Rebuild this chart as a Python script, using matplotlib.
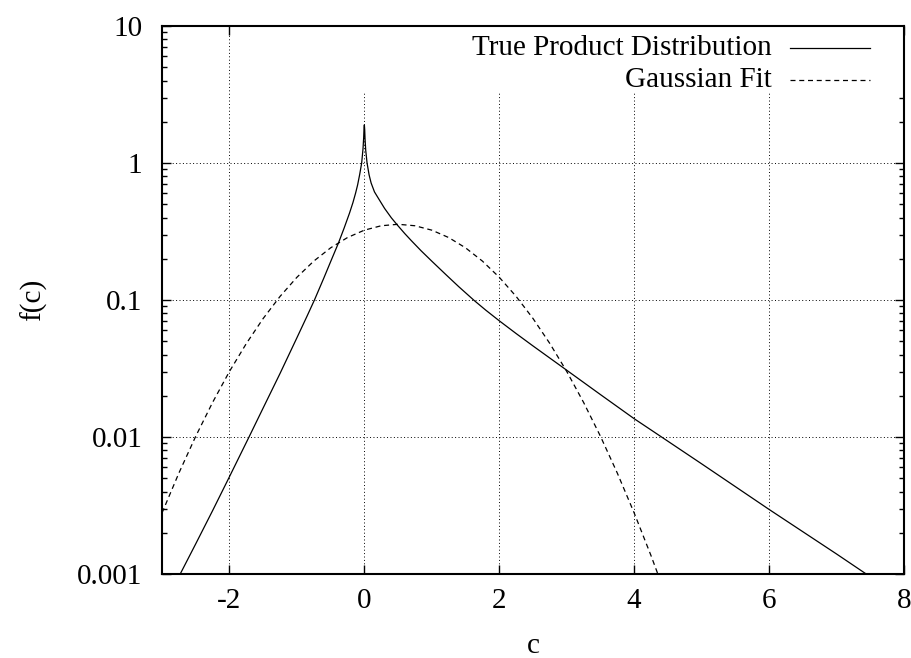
import numpy as np
import matplotlib
matplotlib.use("Agg")
import matplotlib.pyplot as plt
from matplotlib.ticker import LogLocator, FixedLocator, NullLocator, NullFormatter
from matplotlib.patches import Rectangle

plt.rcParams['font.family'] = ['Liberation Serif', 'DejaVu Serif']
plt.rcParams['axes.unicode_minus'] = False

# true product distribution
true_c = [-2.8, -2.73, -2.5, -2.25, -2.0, -1.75, -1.71, -1.5, -1.25, -1.0,
          -0.85, -0.74, -0.6, -0.5, -0.385, -0.3, -0.22, -0.17, -0.13, -0.1,
          -0.07, -0.04, -0.02, -0.01, -0.005, 0.0, 0.005, 0.01, 0.02, 0.04,
          0.07, 0.1, 0.15, 0.22, 0.3, 0.4, 0.49, 0.6, 0.7, 0.84,
          1.0, 1.21, 1.4, 1.63, 1.8, 2.0, 2.25, 2.5, 2.95, 3.5,
          4.0, 4.38, 5.0, 6.0, 7.0, 7.44, 7.6]
true_f = [0.000857, 0.001, 0.00166, 0.0029, 0.00513, 0.00912, 0.01, 0.0163, 0.0291, 0.053,
          0.0762, 0.1, 0.145, 0.1905, 0.26, 0.335, 0.431, 0.513, 0.603, 0.692,
          0.822, 1.0, 1.27, 1.54, 1.80, 1.9, 1.75, 1.5, 1.24, 1.0,
          0.82, 0.715, 0.615, 0.54, 0.466, 0.398, 0.352, 0.305, 0.27, 0.229,
          0.192, 0.153, 0.125, 0.099, 0.0843, 0.0705, 0.0569, 0.0462, 0.032, 0.0204,
          0.0136, 0.0102, 0.00637, 0.00296, 0.0014, 0.001, 0.00089]

# gaussian fit
gauss_c = [-3.0, -2.75, -2.5, -2.25, -2.0, -1.75, -1.5, -1.25, -1.0, -0.75,
           -0.5, -0.25, 0.0, 0.25, 0.5, 0.75, 1.0, 1.25, 1.5, 1.75,
           2.0, 2.25, 2.5, 2.75, 3.0, 3.25, 3.5, 3.75, 4.0, 4.25, 4.5]
gauss_f = [0.00279, 0.00545, 0.01012, 0.01788, 0.0301, 0.0481, 0.0733, 0.1062, 0.1465, 0.1923,
           0.2403, 0.2857, 0.3234, 0.3483, 0.357, 0.3483, 0.3234, 0.2857, 0.2403, 0.1923,
           0.1465, 0.1062, 0.0733, 0.0481, 0.0301, 0.01788, 0.01012, 0.00545, 0.00279, 0.00136, 0.000634]

x_ticks = [-2, 0, 2, 4, 6, 8]
y_ticks = [0.001, 0.01, 0.1, 1, 10]
y_tick_labels = ['0.001', '0.01', '0.1', '1', '10']

fig = plt.figure(figsize=(9.12, 6.58), dpi=100)
ax = fig.add_axes([162/912, 1-574/658, 742/912, 548/658])

ax.set_yscale('log')
ax.set_xlim(-3, 8)
ax.set_ylim(0.001, 10)

ax.xaxis.set_major_locator(FixedLocator(x_ticks))
ax.xaxis.set_minor_locator(NullLocator())
ax.yaxis.set_major_locator(FixedLocator(y_ticks))
ax.yaxis.set_minor_locator(LogLocator(base=10, subs=np.arange(2, 10)))
ax.set_xticklabels([str(t) for t in x_ticks])
ax.set_yticklabels(y_tick_labels)
ax.yaxis.set_minor_formatter(NullFormatter())

ax.tick_params(which='both', direction='in', top=True, right=True, labelsize=21)
ax.tick_params(which='major', length=6.5, width=1)
ax.tick_params(which='minor', length=3.5, width=1)
ax.tick_params(axis='y', pad=14)
ax.tick_params(axis='x', pad=10)
for s in ax.spines.values():
    s.set_linewidth(1.5)

ax.grid(True, which='major', color='black', linestyle=(0, (1, 2.5)), linewidth=0.7, zorder=0)
ax.set_axisbelow(True)

# key area hides the grid
ax.add_patch(Rectangle((300/742 - 162/742, (574-92)/548), 1, 1, transform=ax.transAxes,
                       facecolor='white', edgecolor='none', zorder=1.5))

ax.plot(true_c, true_f, color='black', linewidth=0.9, zorder=3)
ax.plot(gauss_c, gauss_f, color='black', linewidth=0.9, linestyle=(0, (4, 3)), zorder=3)

# key
ax.text((772-162)/742, (574-48)/548, 'True Product Distribution', transform=ax.transAxes,
        ha='right', va='center', fontsize=21, zorder=4)
ax.text((772-162)/742, (574-80)/548, 'Gaussian Fit', transform=ax.transAxes,
        ha='right', va='center', fontsize=21, zorder=4)
ax.plot([(790-162)/742, (870-162)/742], [(574-48)/548]*2, transform=ax.transAxes,
        color='black', linewidth=0.9, zorder=4, clip_on=False)
ax.plot([(790-162)/742, (870-162)/742], [(574-80)/548]*2, transform=ax.transAxes,
        color='black', linewidth=0.9, linestyle=(0, (4, 3)), zorder=4, clip_on=False)

ax.set_xlabel('c', fontsize=21, labelpad=14)
ax.set_ylabel('f(c)', fontsize=21, labelpad=22)

fig.savefig('out.png', dpi=100)
